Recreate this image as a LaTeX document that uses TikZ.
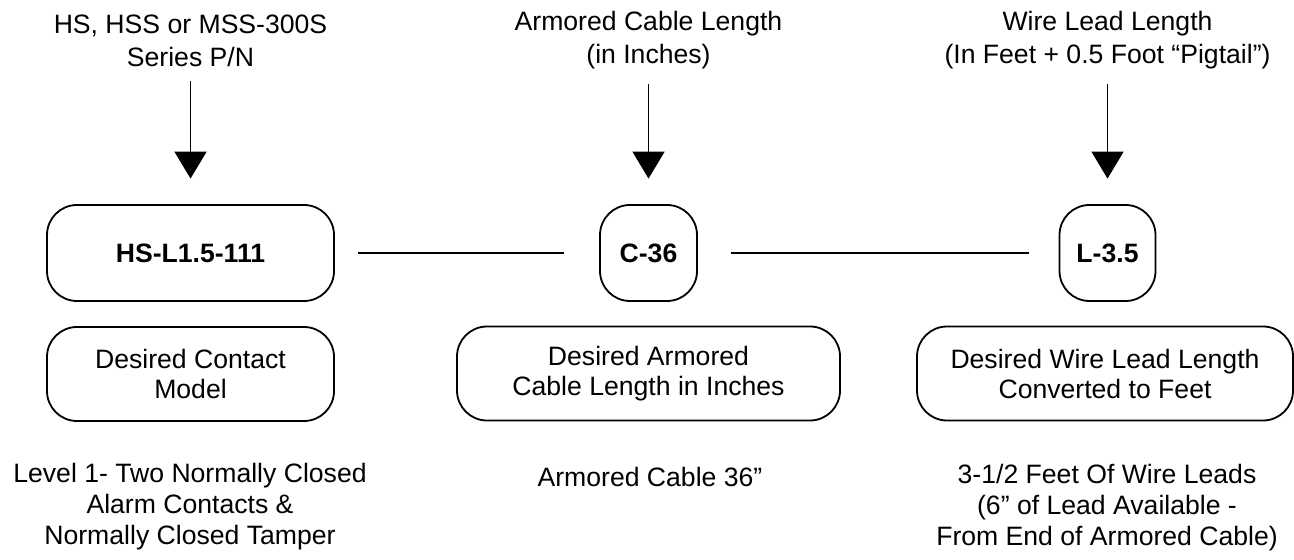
\documentclass[tikz,border=0pt]{standalone}
\usepackage{fontspec}
\setmainfont{Liberation Sans}
\usetikzlibrary{arrows.meta}
\begin{document}
\begin{tikzpicture}[x=0.5pt,y=-0.5pt,
  every node/.style={align=center,inner sep=0pt},
  toplab/.style={font=\fontsize{13.3}{16.5}\selectfont},
  note/.style={font=\fontsize{13.3}{15.5}\selectfont},
  code/.style={draw,line width=0.9pt,rounded corners=15pt,minimum height=48pt,font=\fontsize{13.3}{16}\selectfont\bfseries},
  desc/.style={draw,line width=0.9pt,rounded corners=15pt,minimum height=47pt,font=\fontsize{13.3}{15}\selectfont},
  feed/.style={line width=0.8pt,-{Triangle[width=16pt,length=13.5pt]},shorten <=7pt,shorten >=12.75pt},
  link/.style={line width=0.8pt}]
\useasboundingbox (0,0) rectangle (1294,560);
% labels on top
\node [toplab] (lab1) at (190.5,40.5) {HS, HSS or MSS-300S\\Series P/N};
\node [toplab] (labc) at (648.5,40.5) {Armored Cable Length\\(in Inches)};
\node [toplab] (labl) at (1107.5,40.5) {Wire Lead Length\\(In Feet + 0.5 Foot “Pigtail”)};
% part number boxes
\node [code,minimum width=143.5pt] (box1) at (190.5,253) {HS-L1.5-111};
\node [code,minimum width=48.5pt] (boxc) at (648.5,253) {C-36};
\node [code,minimum width=48pt] (boxl) at (1107.5,253) {L-3.5};
% description boxes
\node [desc,minimum width=143.5pt] (boxa) at (190.5,374) {Desired Contact\\Model};
\node [desc,minimum width=191.5pt] (boxb) at (648.5,373.5) {Desired Armored\\Cable Length in Inches};
\node [desc,minimum width=188pt] (boxd) at (1105,373.5) {Desired Wire Lead Length\\Converted to Feet};
% notes below
\node [note] (note1) at (190,507) {Level 1- Two Normally Closed\\Alarm Contacts \&\\Normally Closed Tamper};
\node [note] (note2) at (650,477) {Armored Cable 36”};
\node [note] (note3) at (1107,508) {3-1/2 Feet Of Wire Leads\\(6” of Lead Available -\\From End of Armored Cable)};
\draw [feed] (lab1) -- (box1);
\draw [feed] (labc) -- (boxc);
\draw [feed] (labl) -- (boxl);
\draw [link,shorten <=11.5pt,shorten >=17.5pt] (box1) -- (boxc);
\draw [link,shorten <=16.5pt,shorten >=15pt] (boxc) -- (boxl);
\end{tikzpicture}
\end{document}
